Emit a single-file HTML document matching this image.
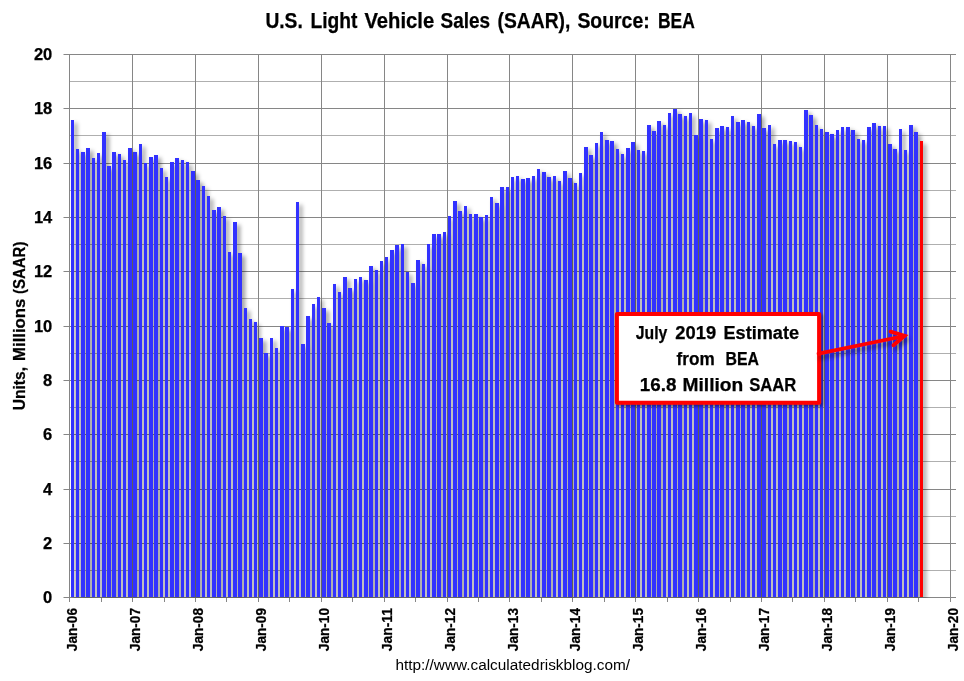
<!DOCTYPE html>
<html><head><meta charset="utf-8"><title>U.S. Light Vehicle Sales (SAAR)</title>
<style>
html,body{margin:0;padding:0;background:#fff;}
body{width:964px;height:681px;overflow:hidden;}
svg{display:block;}
text{font-family:"Liberation Sans",sans-serif;fill:#000;}
.b{font-weight:bold;stroke:#000;stroke-width:0.25px;}
</style></head><body>
<svg width="964" height="681" viewBox="0 0 964 681">
<defs>
<filter id="sh" x="-5%" y="-5%" width="110%" height="110%" filterUnits="objectBoundingBox">
<feGaussianBlur in="SourceAlpha" stdDeviation="2.3"/>
<feOffset dx="3.2" dy="3" result="o"/>
<feFlood flood-color="#000" flood-opacity="0.42"/>
<feComposite in2="o" operator="in" result="s"/>
<feMerge><feMergeNode in="s"/><feMergeNode in="SourceGraphic"/></feMerge>
</filter>
<filter id="sh2" x="-10%" y="-20%" width="125%" height="150%">
<feGaussianBlur in="SourceAlpha" stdDeviation="1.5"/>
<feOffset dx="2" dy="2" result="o"/>
<feFlood flood-color="#000" flood-opacity="0.45"/>
<feComposite in2="o" operator="in" result="s"/>
<feMerge><feMergeNode in="s"/><feMergeNode in="SourceGraphic"/></feMerge>
</filter>
<filter id="sh3" x="-10%" y="-40%" width="125%" height="200%">
<feGaussianBlur in="SourceAlpha" stdDeviation="2.2"/>
<feOffset dx="2" dy="3.5" result="o"/>
<feFlood flood-color="#000" flood-opacity="0.4"/>
<feComposite in2="o" operator="in" result="s"/>
<feMerge><feMergeNode in="s"/><feMergeNode in="SourceGraphic"/></feMerge>
</filter>
<clipPath id="plot"><rect x="64" y="50" width="892" height="548"/></clipPath>
</defs>
<rect width="964" height="681" fill="#fff"/>

<g shape-rendering="crispEdges" fill="#868686">
<rect x="64" y="597" width="892" height="1"/>
<rect x="63" y="597" width="1" height="1" fill-opacity="0.5"/>
<rect x="69" y="570" width="887" height="1" fill="#afafaf"/>
<rect x="64" y="543" width="892" height="1"/>
<rect x="63" y="543" width="1" height="1" fill-opacity="0.5"/>
<rect x="69" y="516" width="887" height="1" fill="#afafaf"/>
<rect x="64" y="489" width="892" height="1"/>
<rect x="63" y="489" width="1" height="1" fill-opacity="0.5"/>
<rect x="69" y="461" width="887" height="1" fill="#afafaf"/>
<rect x="64" y="434" width="892" height="1"/>
<rect x="63" y="434" width="1" height="1" fill-opacity="0.5"/>
<rect x="69" y="407" width="887" height="1" fill="#afafaf"/>
<rect x="64" y="380" width="892" height="1"/>
<rect x="63" y="380" width="1" height="1" fill-opacity="0.5"/>
<rect x="69" y="353" width="887" height="1" fill="#afafaf"/>
<rect x="64" y="326" width="892" height="1"/>
<rect x="63" y="326" width="1" height="1" fill-opacity="0.5"/>
<rect x="69" y="298" width="887" height="1" fill="#afafaf"/>
<rect x="64" y="271" width="892" height="1"/>
<rect x="63" y="271" width="1" height="1" fill-opacity="0.5"/>
<rect x="69" y="244" width="887" height="1" fill="#afafaf"/>
<rect x="64" y="217" width="892" height="1"/>
<rect x="63" y="217" width="1" height="1" fill-opacity="0.5"/>
<rect x="69" y="190" width="887" height="1" fill="#afafaf"/>
<rect x="64" y="163" width="892" height="1"/>
<rect x="63" y="163" width="1" height="1" fill-opacity="0.5"/>
<rect x="69" y="135" width="887" height="1" fill="#afafaf"/>
<rect x="64" y="108" width="892" height="1"/>
<rect x="63" y="108" width="1" height="1" fill-opacity="0.5"/>
<rect x="69" y="81" width="887" height="1" fill="#afafaf"/>
<rect x="64" y="54" width="892" height="1"/>
<rect x="63" y="54" width="1" height="1" fill-opacity="0.5"/>
<rect x="69" y="54" width="1" height="548"/>
<rect x="101" y="597" width="1" height="5"/>
<rect x="132" y="54" width="1" height="548"/>
<rect x="164" y="597" width="1" height="5"/>
<rect x="195" y="54" width="1" height="548"/>
<rect x="226" y="597" width="1" height="5"/>
<rect x="258" y="54" width="1" height="548"/>
<rect x="289" y="597" width="1" height="5"/>
<rect x="321" y="54" width="1" height="548"/>
<rect x="352" y="597" width="1" height="5"/>
<rect x="384" y="54" width="1" height="548"/>
<rect x="415" y="597" width="1" height="5"/>
<rect x="447" y="54" width="1" height="548"/>
<rect x="478" y="597" width="1" height="5"/>
<rect x="509" y="54" width="1" height="548"/>
<rect x="541" y="597" width="1" height="5"/>
<rect x="572" y="54" width="1" height="548"/>
<rect x="604" y="597" width="1" height="5"/>
<rect x="635" y="54" width="1" height="548"/>
<rect x="667" y="597" width="1" height="5"/>
<rect x="698" y="54" width="1" height="548"/>
<rect x="730" y="597" width="1" height="5"/>
<rect x="761" y="54" width="1" height="548"/>
<rect x="792" y="597" width="1" height="5"/>
<rect x="824" y="54" width="1" height="548"/>
<rect x="855" y="597" width="1" height="5"/>
<rect x="887" y="54" width="1" height="548"/>
<rect x="918" y="597" width="1" height="5"/>
<rect x="950" y="54" width="1" height="548"/>
</g>
<g filter="url(#sh)" shape-rendering="crispEdges" clip-path="url(#plot)">
<rect x="71" y="120" width="3" height="477" fill="#3333ff"/>
<rect x="76" y="149" width="3" height="448" fill="#3333ff"/>
<rect x="81" y="152" width="4" height="445" fill="#3333ff"/>
<rect x="86" y="148" width="4" height="449" fill="#3333ff"/>
<rect x="92" y="158" width="3" height="439" fill="#3333ff"/>
<rect x="97" y="153" width="3" height="444" fill="#3333ff"/>
<rect x="102" y="132" width="4" height="465" fill="#3333ff"/>
<rect x="107" y="166" width="4" height="431" fill="#3333ff"/>
<rect x="112" y="152" width="4" height="445" fill="#3333ff"/>
<rect x="118" y="154" width="3" height="443" fill="#3333ff"/>
<rect x="123" y="160" width="3" height="437" fill="#3333ff"/>
<rect x="128" y="148" width="4" height="449" fill="#3333ff"/>
<rect x="133" y="152" width="4" height="445" fill="#3333ff"/>
<rect x="139" y="144" width="3" height="453" fill="#3333ff"/>
<rect x="144" y="163" width="3" height="434" fill="#3333ff"/>
<rect x="149" y="157" width="4" height="440" fill="#3333ff"/>
<rect x="154" y="155" width="4" height="442" fill="#3333ff"/>
<rect x="160" y="168" width="3" height="429" fill="#3333ff"/>
<rect x="165" y="177" width="3" height="420" fill="#3333ff"/>
<rect x="170" y="162" width="4" height="435" fill="#3333ff"/>
<rect x="175" y="158" width="4" height="439" fill="#3333ff"/>
<rect x="181" y="160" width="3" height="437" fill="#3333ff"/>
<rect x="186" y="162" width="3" height="435" fill="#3333ff"/>
<rect x="191" y="171" width="4" height="426" fill="#3333ff"/>
<rect x="196" y="180" width="4" height="417" fill="#3333ff"/>
<rect x="202" y="186" width="3" height="411" fill="#3333ff"/>
<rect x="207" y="196" width="3" height="401" fill="#3333ff"/>
<rect x="212" y="210" width="4" height="387" fill="#3333ff"/>
<rect x="217" y="207" width="4" height="390" fill="#3333ff"/>
<rect x="223" y="216" width="3" height="381" fill="#3333ff"/>
<rect x="228" y="252" width="3" height="345" fill="#3333ff"/>
<rect x="233" y="222" width="4" height="375" fill="#3333ff"/>
<rect x="238" y="253" width="4" height="344" fill="#3333ff"/>
<rect x="244" y="308" width="3" height="289" fill="#3333ff"/>
<rect x="249" y="319" width="3" height="278" fill="#3333ff"/>
<rect x="254" y="322" width="3" height="275" fill="#3333ff"/>
<rect x="259" y="338" width="4" height="259" fill="#3333ff"/>
<rect x="264" y="353" width="4" height="244" fill="#3333ff"/>
<rect x="270" y="338" width="3" height="259" fill="#3333ff"/>
<rect x="275" y="348" width="3" height="249" fill="#3333ff"/>
<rect x="280" y="326" width="4" height="271" fill="#3333ff"/>
<rect x="285" y="327" width="4" height="270" fill="#3333ff"/>
<rect x="291" y="289" width="3" height="308" fill="#3333ff"/>
<rect x="296" y="202" width="3" height="395" fill="#3333ff"/>
<rect x="301" y="344" width="4" height="253" fill="#3333ff"/>
<rect x="306" y="316" width="4" height="281" fill="#3333ff"/>
<rect x="312" y="304" width="3" height="293" fill="#3333ff"/>
<rect x="317" y="297" width="3" height="300" fill="#3333ff"/>
<rect x="322" y="308" width="4" height="289" fill="#3333ff"/>
<rect x="327" y="323" width="4" height="274" fill="#3333ff"/>
<rect x="333" y="284" width="3" height="313" fill="#3333ff"/>
<rect x="338" y="292" width="3" height="305" fill="#3333ff"/>
<rect x="343" y="277" width="4" height="320" fill="#3333ff"/>
<rect x="348" y="288" width="4" height="309" fill="#3333ff"/>
<rect x="354" y="279" width="3" height="318" fill="#3333ff"/>
<rect x="359" y="277" width="3" height="320" fill="#3333ff"/>
<rect x="364" y="280" width="4" height="317" fill="#3333ff"/>
<rect x="369" y="266" width="4" height="331" fill="#3333ff"/>
<rect x="375" y="270" width="3" height="327" fill="#3333ff"/>
<rect x="380" y="261" width="3" height="336" fill="#3333ff"/>
<rect x="385" y="257" width="3" height="340" fill="#3333ff"/>
<rect x="390" y="250" width="4" height="347" fill="#3333ff"/>
<rect x="395" y="245" width="4" height="352" fill="#3333ff"/>
<rect x="401" y="244" width="3" height="353" fill="#3333ff"/>
<rect x="406" y="272" width="3" height="325" fill="#3333ff"/>
<rect x="411" y="283" width="4" height="314" fill="#3333ff"/>
<rect x="416" y="260" width="4" height="337" fill="#3333ff"/>
<rect x="422" y="264" width="3" height="333" fill="#3333ff"/>
<rect x="427" y="244" width="3" height="353" fill="#3333ff"/>
<rect x="432" y="234" width="4" height="363" fill="#3333ff"/>
<rect x="437" y="234" width="4" height="363" fill="#3333ff"/>
<rect x="443" y="232" width="3" height="365" fill="#3333ff"/>
<rect x="448" y="216" width="3" height="381" fill="#3333ff"/>
<rect x="453" y="201" width="4" height="396" fill="#3333ff"/>
<rect x="458" y="211" width="4" height="386" fill="#3333ff"/>
<rect x="464" y="206" width="3" height="391" fill="#3333ff"/>
<rect x="469" y="214" width="3" height="383" fill="#3333ff"/>
<rect x="474" y="214" width="4" height="383" fill="#3333ff"/>
<rect x="479" y="217" width="4" height="380" fill="#3333ff"/>
<rect x="485" y="215" width="3" height="382" fill="#3333ff"/>
<rect x="490" y="197" width="3" height="400" fill="#3333ff"/>
<rect x="495" y="203" width="4" height="394" fill="#3333ff"/>
<rect x="500" y="187" width="4" height="410" fill="#3333ff"/>
<rect x="506" y="187" width="3" height="410" fill="#3333ff"/>
<rect x="511" y="177" width="3" height="420" fill="#3333ff"/>
<rect x="516" y="176" width="3" height="421" fill="#3333ff"/>
<rect x="521" y="179" width="4" height="418" fill="#3333ff"/>
<rect x="526" y="178" width="4" height="419" fill="#3333ff"/>
<rect x="532" y="176" width="3" height="421" fill="#3333ff"/>
<rect x="537" y="169" width="3" height="428" fill="#3333ff"/>
<rect x="542" y="172" width="4" height="425" fill="#3333ff"/>
<rect x="547" y="177" width="4" height="420" fill="#3333ff"/>
<rect x="553" y="176" width="3" height="421" fill="#3333ff"/>
<rect x="558" y="181" width="3" height="416" fill="#3333ff"/>
<rect x="563" y="171" width="4" height="426" fill="#3333ff"/>
<rect x="568" y="178" width="4" height="419" fill="#3333ff"/>
<rect x="574" y="183" width="3" height="414" fill="#3333ff"/>
<rect x="579" y="173" width="3" height="424" fill="#3333ff"/>
<rect x="584" y="147" width="4" height="450" fill="#3333ff"/>
<rect x="589" y="155" width="4" height="442" fill="#3333ff"/>
<rect x="595" y="143" width="3" height="454" fill="#3333ff"/>
<rect x="600" y="132" width="3" height="465" fill="#3333ff"/>
<rect x="605" y="140" width="4" height="457" fill="#3333ff"/>
<rect x="610" y="141" width="4" height="456" fill="#3333ff"/>
<rect x="616" y="149" width="3" height="448" fill="#3333ff"/>
<rect x="621" y="154" width="3" height="443" fill="#3333ff"/>
<rect x="626" y="148" width="4" height="449" fill="#3333ff"/>
<rect x="631" y="142" width="4" height="455" fill="#3333ff"/>
<rect x="637" y="150" width="3" height="447" fill="#3333ff"/>
<rect x="642" y="151" width="3" height="446" fill="#3333ff"/>
<rect x="647" y="125" width="4" height="472" fill="#3333ff"/>
<rect x="652" y="131" width="4" height="466" fill="#3333ff"/>
<rect x="657" y="121" width="4" height="476" fill="#3333ff"/>
<rect x="663" y="125" width="3" height="472" fill="#3333ff"/>
<rect x="668" y="113" width="3" height="484" fill="#3333ff"/>
<rect x="673" y="109" width="4" height="488" fill="#3333ff"/>
<rect x="678" y="114" width="4" height="483" fill="#3333ff"/>
<rect x="684" y="116" width="3" height="481" fill="#3333ff"/>
<rect x="689" y="113" width="3" height="484" fill="#3333ff"/>
<rect x="694" y="135" width="4" height="462" fill="#3333ff"/>
<rect x="699" y="119" width="4" height="478" fill="#3333ff"/>
<rect x="705" y="120" width="3" height="477" fill="#3333ff"/>
<rect x="710" y="139" width="3" height="458" fill="#3333ff"/>
<rect x="715" y="128" width="4" height="469" fill="#3333ff"/>
<rect x="720" y="126" width="4" height="471" fill="#3333ff"/>
<rect x="726" y="127" width="3" height="470" fill="#3333ff"/>
<rect x="731" y="116" width="3" height="481" fill="#3333ff"/>
<rect x="736" y="122" width="4" height="475" fill="#3333ff"/>
<rect x="741" y="120" width="4" height="477" fill="#3333ff"/>
<rect x="747" y="122" width="3" height="475" fill="#3333ff"/>
<rect x="752" y="126" width="3" height="471" fill="#3333ff"/>
<rect x="757" y="114" width="4" height="483" fill="#3333ff"/>
<rect x="762" y="128" width="4" height="469" fill="#3333ff"/>
<rect x="768" y="125" width="3" height="472" fill="#3333ff"/>
<rect x="773" y="144" width="3" height="453" fill="#3333ff"/>
<rect x="778" y="140" width="4" height="457" fill="#3333ff"/>
<rect x="783" y="140" width="4" height="457" fill="#3333ff"/>
<rect x="789" y="141" width="3" height="456" fill="#3333ff"/>
<rect x="794" y="142" width="3" height="455" fill="#3333ff"/>
<rect x="799" y="147" width="3" height="450" fill="#3333ff"/>
<rect x="804" y="110" width="4" height="487" fill="#3333ff"/>
<rect x="809" y="115" width="4" height="482" fill="#3333ff"/>
<rect x="815" y="125" width="3" height="472" fill="#3333ff"/>
<rect x="820" y="129" width="3" height="468" fill="#3333ff"/>
<rect x="825" y="132" width="4" height="465" fill="#3333ff"/>
<rect x="830" y="134" width="4" height="463" fill="#3333ff"/>
<rect x="836" y="130" width="3" height="467" fill="#3333ff"/>
<rect x="841" y="127" width="3" height="470" fill="#3333ff"/>
<rect x="846" y="127" width="4" height="470" fill="#3333ff"/>
<rect x="851" y="130" width="4" height="467" fill="#3333ff"/>
<rect x="857" y="139" width="3" height="458" fill="#3333ff"/>
<rect x="862" y="140" width="3" height="457" fill="#3333ff"/>
<rect x="867" y="127" width="4" height="470" fill="#3333ff"/>
<rect x="872" y="123" width="4" height="474" fill="#3333ff"/>
<rect x="878" y="126" width="3" height="471" fill="#3333ff"/>
<rect x="883" y="126" width="3" height="471" fill="#3333ff"/>
<rect x="888" y="144" width="4" height="453" fill="#3333ff"/>
<rect x="893" y="149" width="4" height="448" fill="#3333ff"/>
<rect x="899" y="129" width="3" height="468" fill="#3333ff"/>
<rect x="904" y="150" width="3" height="447" fill="#3333ff"/>
<rect x="909" y="125" width="4" height="472" fill="#3333ff"/>
<rect x="914" y="132" width="4" height="465" fill="#3333ff"/>
<rect x="920" y="141" width="3" height="456" fill="#ff0000"/>
</g>
<text class="b" x="52.3" y="603.1" font-size="16.5" text-anchor="end">0</text>
<text class="b" x="52.3" y="549.1" font-size="16.5" text-anchor="end">2</text>
<text class="b" x="52.3" y="495.1" font-size="16.5" text-anchor="end">4</text>
<text class="b" x="52.3" y="440.1" font-size="16.5" text-anchor="end">6</text>
<text class="b" x="52.3" y="386.1" font-size="16.5" text-anchor="end">8</text>
<text class="b" x="52.3" y="332.1" font-size="16.5" text-anchor="end">10</text>
<text class="b" x="52.3" y="277.1" font-size="16.5" text-anchor="end">12</text>
<text class="b" x="52.3" y="223.1" font-size="16.5" text-anchor="end">14</text>
<text class="b" x="52.3" y="169.1" font-size="16.5" text-anchor="end">16</text>
<text class="b" x="52.3" y="114.1" font-size="16.5" text-anchor="end">18</text>
<text class="b" x="52.3" y="60.1" font-size="16.5" text-anchor="end">20</text>
<text class="b" font-size="14.6" stroke="#000" stroke-width="0.3" transform="translate(77.4 651.2) rotate(-90)" textLength="43.2" lengthAdjust="spacingAndGlyphs">Jan-06</text>
<text class="b" font-size="14.6" stroke="#000" stroke-width="0.3" transform="translate(140.3 651.2) rotate(-90)" textLength="43.2" lengthAdjust="spacingAndGlyphs">Jan-07</text>
<text class="b" font-size="14.6" stroke="#000" stroke-width="0.3" transform="translate(203.1 651.2) rotate(-90)" textLength="43.2" lengthAdjust="spacingAndGlyphs">Jan-08</text>
<text class="b" font-size="14.6" stroke="#000" stroke-width="0.3" transform="translate(266.0 651.2) rotate(-90)" textLength="43.2" lengthAdjust="spacingAndGlyphs">Jan-09</text>
<text class="b" font-size="14.6" stroke="#000" stroke-width="0.3" transform="translate(328.9 651.2) rotate(-90)" textLength="43.2" lengthAdjust="spacingAndGlyphs">Jan-10</text>
<text class="b" font-size="14.6" stroke="#000" stroke-width="0.3" transform="translate(391.8 651.2) rotate(-90)" textLength="43.2" lengthAdjust="spacingAndGlyphs">Jan-11</text>
<text class="b" font-size="14.6" stroke="#000" stroke-width="0.3" transform="translate(454.7 651.2) rotate(-90)" textLength="43.2" lengthAdjust="spacingAndGlyphs">Jan-12</text>
<text class="b" font-size="14.6" stroke="#000" stroke-width="0.3" transform="translate(517.6 651.2) rotate(-90)" textLength="43.2" lengthAdjust="spacingAndGlyphs">Jan-13</text>
<text class="b" font-size="14.6" stroke="#000" stroke-width="0.3" transform="translate(580.4 651.2) rotate(-90)" textLength="43.2" lengthAdjust="spacingAndGlyphs">Jan-14</text>
<text class="b" font-size="14.6" stroke="#000" stroke-width="0.3" transform="translate(643.3 651.2) rotate(-90)" textLength="43.2" lengthAdjust="spacingAndGlyphs">Jan-15</text>
<text class="b" font-size="14.6" stroke="#000" stroke-width="0.3" transform="translate(706.2 651.2) rotate(-90)" textLength="43.2" lengthAdjust="spacingAndGlyphs">Jan-16</text>
<text class="b" font-size="14.6" stroke="#000" stroke-width="0.3" transform="translate(769.1 651.2) rotate(-90)" textLength="43.2" lengthAdjust="spacingAndGlyphs">Jan-17</text>
<text class="b" font-size="14.6" stroke="#000" stroke-width="0.3" transform="translate(832.0 651.2) rotate(-90)" textLength="43.2" lengthAdjust="spacingAndGlyphs">Jan-18</text>
<text class="b" font-size="14.6" stroke="#000" stroke-width="0.3" transform="translate(894.9 651.2) rotate(-90)" textLength="43.2" lengthAdjust="spacingAndGlyphs">Jan-19</text>
<text class="b" font-size="14.6" stroke="#000" stroke-width="0.3" transform="translate(957.7 651.2) rotate(-90)" textLength="43.2" lengthAdjust="spacingAndGlyphs">Jan-20</text>
<text class="b" y="27.6" font-size="21.2"><tspan x="265.4" textLength="37.4" lengthAdjust="spacingAndGlyphs">U.S.</tspan> <tspan x="310.5" textLength="47.0" lengthAdjust="spacingAndGlyphs">Light</tspan> <tspan x="364.5" textLength="69.7" lengthAdjust="spacingAndGlyphs">Vehicle</tspan> <tspan x="440.5" textLength="49.5" lengthAdjust="spacingAndGlyphs">Sales</tspan> <tspan x="497.6" textLength="72.8" lengthAdjust="spacingAndGlyphs">(SAAR),</tspan> <tspan x="577.4" textLength="72.3" lengthAdjust="spacingAndGlyphs">Source:</tspan> <tspan x="658.0" textLength="36.8" lengthAdjust="spacingAndGlyphs">BEA</tspan></text>
<text class="b" font-size="16.2" transform="translate(24.9 410.2) rotate(-90)"><tspan x="0.0" textLength="43.2" lengthAdjust="spacingAndGlyphs">Units,</tspan> <tspan x="49.3" textLength="62.2" lengthAdjust="spacingAndGlyphs">Millions</tspan> <tspan x="116.2" textLength="52.4" lengthAdjust="spacingAndGlyphs">(SAAR)</tspan></text>
<text x="395.4" y="670.2" font-size="15.2" textLength="234.7" lengthAdjust="spacingAndGlyphs">http://www.calculatedriskblog.com/</text>
<g filter="url(#sh2)">
<rect x="616.9" y="314.1" width="202.2" height="88.6" fill="#fff" stroke="#ff0000" stroke-width="4" stroke-linejoin="round"/>
</g>
<g filter="url(#sh3)" fill="none" stroke="#ff0000" stroke-width="3.8" stroke-linecap="round" stroke-linejoin="miter">
<path d="M818.5 353.7 L904.6 336"/><path d="M890.6 331.6 L904.6 335.8 L893.4 345.2"/>
</g>
<text class="b" font-size="18" y="338.7"><tspan x="635.8" textLength="31.6" lengthAdjust="spacingAndGlyphs">July</tspan> <tspan x="675.3" textLength="40.8" lengthAdjust="spacingAndGlyphs">2019</tspan> <tspan x="723.5" textLength="75.5" lengthAdjust="spacingAndGlyphs">Estimate</tspan></text>
<text class="b" font-size="18" y="364.8"><tspan x="676.6" textLength="38.1" lengthAdjust="spacingAndGlyphs">from</tspan> <tspan x="725.5" textLength="33.5" lengthAdjust="spacingAndGlyphs">BEA</tspan></text>
<text class="b" font-size="18" y="390.8"><tspan x="639.8" textLength="36.6" lengthAdjust="spacingAndGlyphs">16.8</tspan> <tspan x="682.5" textLength="60.8" lengthAdjust="spacingAndGlyphs">Million</tspan> <tspan x="749.2" textLength="47.1" lengthAdjust="spacingAndGlyphs">SAAR</tspan></text>
</svg></body></html>
